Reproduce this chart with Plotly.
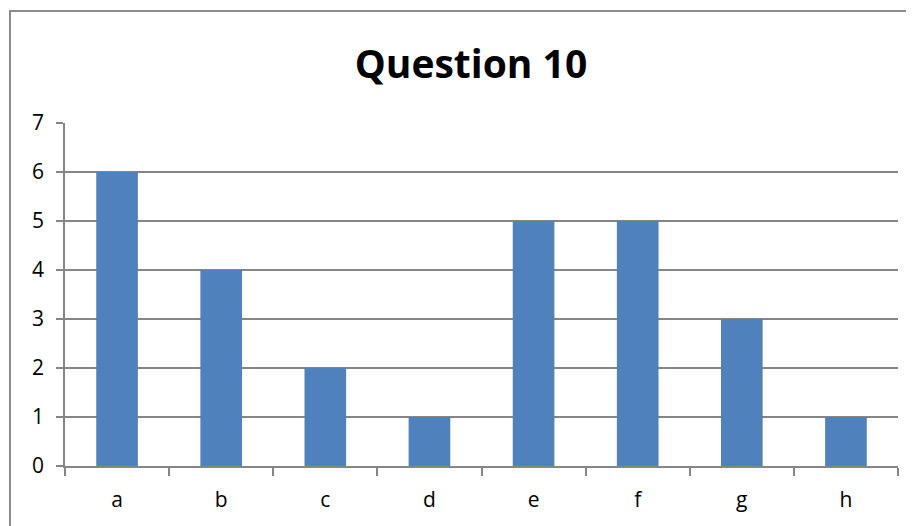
import plotly.graph_objects as go

categories = ["a", "b", "c", "d", "e", "f", "g", "h"]
values = [6, 4, 2, 1, 5, 5, 3, 1]
title_text = "Question 10"

# page offset from default body margin
OFF = 8
W, H = 914, 526
L, T = 65 - OFF, 123 - OFF
R = W - (898 - OFF)
B = H - (466 - OFF)
pw, ph = W - L - R, H - T - B

def px_x(p):
    return (p - OFF - L) / pw

def px_y(p):
    return (H - B - (p - OFF)) / ph

fig = go.Figure(go.Bar(x=categories, y=values, marker_color="#4F81BD",
                       marker_line_width=0))

fig.update_layout(
    width=W, height=H,
    margin=dict(l=L, r=R, t=T, b=B, autoexpand=False),
    paper_bgcolor="white", plot_bgcolor="white",
    bargap=0.6,
    showlegend=False,
    font=dict(family="Open Sans, Liberation Sans, sans-serif", color="black"),
    title=dict(text="<b>" + title_text + "</b>", x=(471 - OFF) / W, xanchor="center",
               y=1 - (64 - OFF) / H, yanchor="middle",
               font=dict(size=39, family="Open Sans, sans-serif", color="black")),
    shapes=[dict(type="rect", xref="paper", yref="paper",
                 x0=px_x(10), x1=px_x(940), y0=px_y(550), y1=px_y(11),
                 line=dict(color="#8c8c8c", width=2), fillcolor="rgba(0,0,0,0)",
                 layer="below")],
)

fig.update_yaxes(range=[0, 7], dtick=1, showgrid=True, gridcolor="#868686",
                 gridwidth=1.5, showline=True, linecolor="#868686", linewidth=1.5,
                 ticks="outside", ticklen=7, tickcolor="#868686", tickwidth=1.5,
                 tickfont=dict(size=21, color="black"), zeroline=False,
                 ticklabelstandoff=8)
fig.update_xaxes(showline=True, linecolor="#868686", linewidth=1.5,
                 ticks="outside", tickson="boundaries", ticklen=8,
                 tickcolor="#868686", tickwidth=1.5,
                 tickfont=dict(size=21, color="black"), showgrid=False,
                 ticklabelstandoff=14)

fig.write_html("out.html")
